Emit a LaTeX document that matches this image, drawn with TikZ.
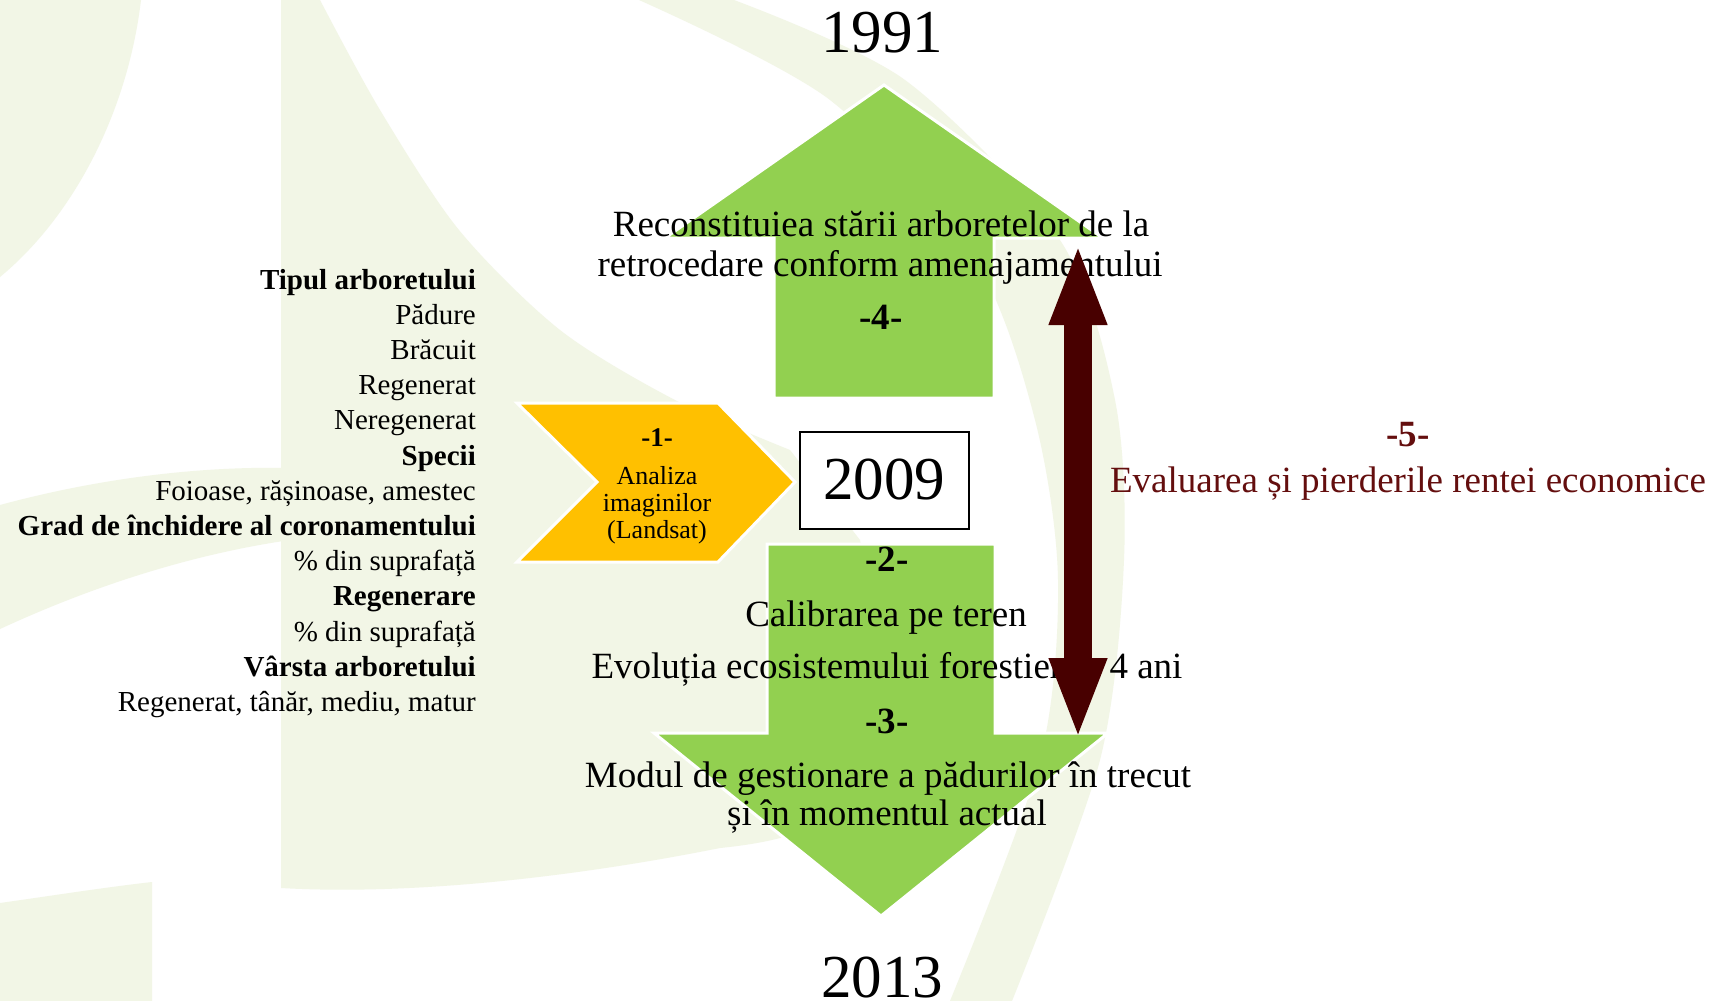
\documentclass[tikz,border=0pt]{standalone}
\usepackage{fontspec}
\setmainfont{Liberation Serif}
\usetikzlibrary{arrows.meta}
\definecolor{wm}{RGB}{242,246,230}
\definecolor{grn}{HTML}{92D050}
\definecolor{ylw}{HTML}{FFC000}
\definecolor{darkarrow}{RGB}{72,0,0}
\definecolor{txtred}{RGB}{100,14,14}
\begin{document}
\begin{tikzpicture}[x=1pt,y=-1pt,
  lbl/.style={anchor=base,inner sep=0pt,font=\fontsize{37}{40}\selectfont},
  num/.style={anchor=base,inner sep=0pt,font=\fontsize{37}{40}\selectfont\bfseries},
  year/.style={anchor=base,inner sep=0pt,font=\fontsize{61}{66}\selectfont},
  lst/.style={anchor=base east,inner sep=0pt,font=\fontsize{29}{32}\selectfont},
  lsth/.style={anchor=base east,inner sep=0pt,font=\fontsize{29}{32}\selectfont\bfseries},
  chv/.style={anchor=base,inner sep=0pt,font=\fontsize{26}{28}\selectfont},
  chvh/.style={anchor=base,inner sep=0pt,font=\fontsize{27}{28}\selectfont\bfseries},
  bigshape/.style={draw=white,line width=3pt,line join=miter},
  yearbox/.style={draw=black,line width=2pt,fill=white,minimum width=169pt,minimum height=97pt,inner sep=0pt,font=\fontsize{61}{66}\selectfont},
]
\useasboundingbox (0,0) rectangle (1727,1001);
\fill[white] (0,0) rectangle (1727,1001);
% watermark
\fill[wm] (0,0) -- (141,0) .. controls (128,110) and (75,215) .. (0,277) -- cycle;
\fill[wm] (281,0) -- plot[smooth] coordinates {(320,0) (380,110) (459,230) (560,330) (675,400) (790,450)} -- (860,540) -- (900,760) .. controls (850,820) and (800,840) .. (720,848) .. controls (560,880) and (400,895) .. (281,888) -- cycle;
\fill[wm] (0,505) .. controls (100,478) and (200,466) .. (290,468) -- (290,540) .. controls (180,556) and (80,592) .. (0,629) -- cycle;
\fill[wm] (0,903) .. controls (50,896) and (100,888) .. (152,882) -- (152,1001) -- (0,1001) -- cycle;
\fill[wm] plot[smooth] coordinates {(734,0) (905,80) (1060,240) (1115,400) (1124,560) (1100,760) (1012,1001)} -- plot[smooth] coordinates {(950,1001) (1040,760) (1058,580) (1035,420) (975,260) (830,100) (639,0)} -- cycle;
% green arrows and chevron
\filldraw[fill=grn,bigshape] (884,85) -- (1103,238) -- (994,238) -- (994,398) -- (774,398) -- (774,238) -- (665,238) -- cycle;
\filldraw[fill=grn,bigshape] (767,544) -- (995,544) -- (995,733) -- (1108,733) -- (881,916) -- (654,733) -- (767,733) -- cycle;
\filldraw[fill=ylw,bigshape] (517,403) -- (718,403) -- (795,482) -- (718,562) -- (517,562) -- (597,482) -- cycle;
% box
\node[yearbox] (y2009) at (884,480) {2009};
% years
\node[year] (y1991) at (882,52) {1991};
\node[year] (y2013) at (882,997) {2013};
% chevron text
\node[chvh] (n1) at (657,446) {-1-};
\node[chv] (c1) at (657,484) {Analiza};
\node[chv] (c2) at (657,511) {imaginilor};
\node[chv] (c3) at (657,538) {(Landsat)};
% main texts
\node[lbl] (t4a) at (881,236) {Reconstituiea stării arboretelor de la};
\node[lbl] (t4b) at (880,276) {retrocedare conform amenajamentului};
\node[num] (n4) at (881,329) {-4-};
\node[num] (n2) at (887,571) {-2-};
\node[lbl] (t2a) at (886,626) {Calibrarea pe teren};
\node[lbl] (t2b) at (887,678) {Evoluția ecosistemului forestier în 4 ani};
\node[num] (n3) at (887,733) {-3-};
\node[lbl] (t3a) at (888,787) {Modul de gestionare a pădurilor în trecut};
\node[lbl] (t3b) at (887,825) {și în momentul actual};
\node[num,text=txtred] (n5) at (1408,446) {-5-};
\node[lbl,text=txtred] (t5) at (1408,492) {Evaluarea și pierderile rentei economice};
% left list
\node[lsth] (l1) at (476,289) {Tipul arboretului};
\node[lst] (l2) at (476,324.2) {Pădure};
\node[lst] (l3) at (476,359.4) {Brăcuit};
\node[lst] (l4) at (476,394.6) {Regenerat};
\node[lst] (l5) at (476,429.8) {Neregenerat};
\node[lsth] (l6) at (476,465) {Specii};
\node[lst] (l7) at (476,500.2) {Foioase, rășinoase, amestec};
\node[lsth] (l8) at (476,535.4) {Grad de închidere al coronamentului};
\node[lst] (l9) at (476,570.6) {\% din suprafață};
\node[lsth] (l10) at (476,605.8) {Regenerare};
\node[lst] (l11) at (476,641) {\% din suprafață};
\node[lsth] (l12) at (476,676.2) {Vârsta arboretului};
\node[lst] (l13) at (476,711.4) {Regenerat, tânăr, mediu, matur};
% double arrow
\coordinate (e5a) at (1078,243);
\coordinate (e5b) at (1078,740);
\draw[darkarrow,line width=28pt,{Triangle[length=82pt,width=52pt]}-{Triangle[length=82pt,width=52pt]}] (e5a) -- (e5b);
\end{tikzpicture}
\end{document}
